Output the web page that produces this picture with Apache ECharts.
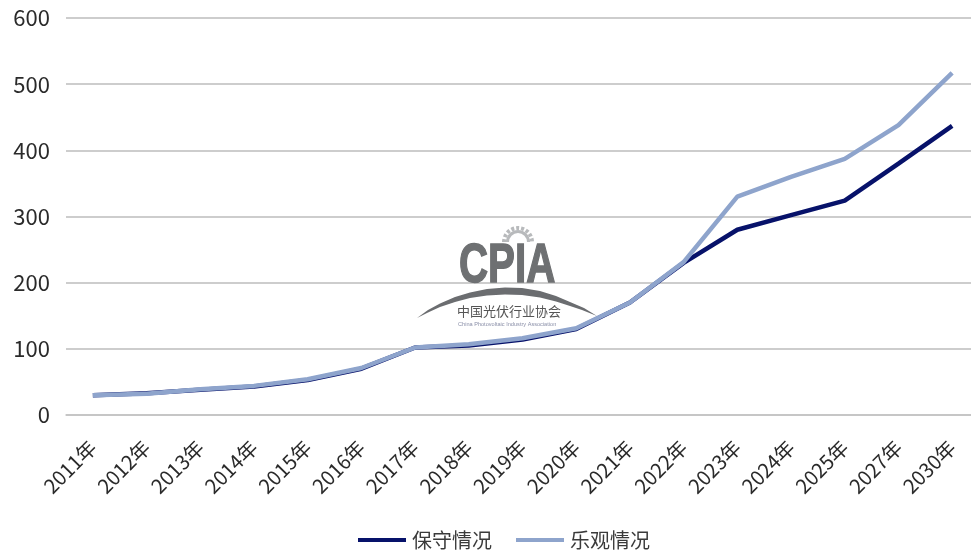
<!DOCTYPE html>
<html><head><meta charset="utf-8">
<style>html,body{margin:0;padding:0;background:#fff;overflow:hidden}#c{width:990px;height:554px}</style>
<script src="https://cdn.jsdelivr.net/npm/echarts@6/dist/echarts.min.js"></script>
</head><body><div id="c"></div>
<script>
const categories=['2011年','2012年','2013年','2014年','2015年','2016年','2017年','2018年','2019年','2020年','2021年','2022年','2023年','2024年','2025年','2027年','2030年'];
const conservative=[30,33,38,43,53,70,102,105,114,130,170,230,280,302,324,380,437];
const optimistic=[30,32,39,44,54,71,102,107,116,131,170,231,330,360,387,438,517];
const seriesNames=['保守情况','乐观情况'];
const font='"Noto Sans CJK SC","Noto Sans",sans-serif';
const chart=echarts.init(document.getElementById('c'));
chart.setOption({
  animation:false,
  backgroundColor:'#fff',
  grid:{left:66,top:18,width:913,height:397},
  legend:{
    top:530,left:358,padding:0,itemGap:24,itemWidth:48,itemHeight:4,icon:'rect',
    textStyle:{fontFamily:font,fontSize:20,color:'#3a3a3a',padding:[0,0,0,1]},
    data:seriesNames
  },
  xAxis:{type:'category',data:categories,boundaryGap:true,
    axisLine:{lineStyle:{color:'#c4c4c4',width:1.5}},axisTick:{show:false},
    axisLabel:{interval:0,rotate:45,fontFamily:font,fontSize:20,color:'#2a2a2a',margin:29}},
  yAxis:{type:'value',min:0,max:600,interval:100,
    axisLine:{show:false},axisTick:{show:false},
    axisLabel:{fontFamily:font,fontSize:22,color:'#2a2a2a',margin:16},
    splitLine:{lineStyle:{color:'#bdbdbd',width:1.5}}},
  graphic:{elements:[
    {type:'text',z:1,x:459,y:239,scaleX:0.72,style:{text:'CPIA',fontFamily:'"Liberation Sans",sans-serif',fontWeight:'bold',fontSize:56,fill:'#6e7072',stroke:'#6e7072',lineWidth:1.5,letterSpacing:3}},
    {type:'sector',z:1,shape:{cx:518,cy:242,r0:9,r:12,startAngle:Math.PI,endAngle:2*Math.PI},style:{fill:'#b8babc'}},
    {type:'arc',z:1,shape:{cx:518,cy:242,r:14,startAngle:Math.PI,endAngle:2*Math.PI},style:{fill:'none',stroke:'#b8babc',lineWidth:4,lineDash:[3,2]}},
    {type:'polygon',z:1,shape:{points:[[417,318],[428,310],[440,303.5],[455,297],[470,292.5],[487,289],[505,287.5],[522,288],[540,291],[556,296],[570,302],[584,308],[597,316],[582,310],[570,306],[556,301.5],[540,297.5],[522,295],[505,294.5],[487,295.5],[470,298],[455,302],[440,307],[428,312.5]]},style:{fill:'#6b6d70'}},
    {type:'text',z:1,x:457,y:305,style:{text:'中国光伏行业协会',fontFamily:font,fontSize:13,fill:'#555'}},
    {type:'text',z:1,x:458,y:321,style:{text:'China Photovoltaic Industry Association',fontFamily:'"Liberation Sans",sans-serif',fontSize:5.6,fill:'#8a8fa8'}}
  ]},
  series:[
    {name:seriesNames[0],type:'line',data:conservative,symbol:'none',z:3,lineStyle:{color:'#07126a',width:4.5},itemStyle:{color:'#07126a'}},
    {name:seriesNames[1],type:'line',data:optimistic,symbol:'none',z:4,lineStyle:{color:'#8ea4cc',width:4.5},itemStyle:{color:'#8ea4cc'}}
  ]
});
</script></body></html>
